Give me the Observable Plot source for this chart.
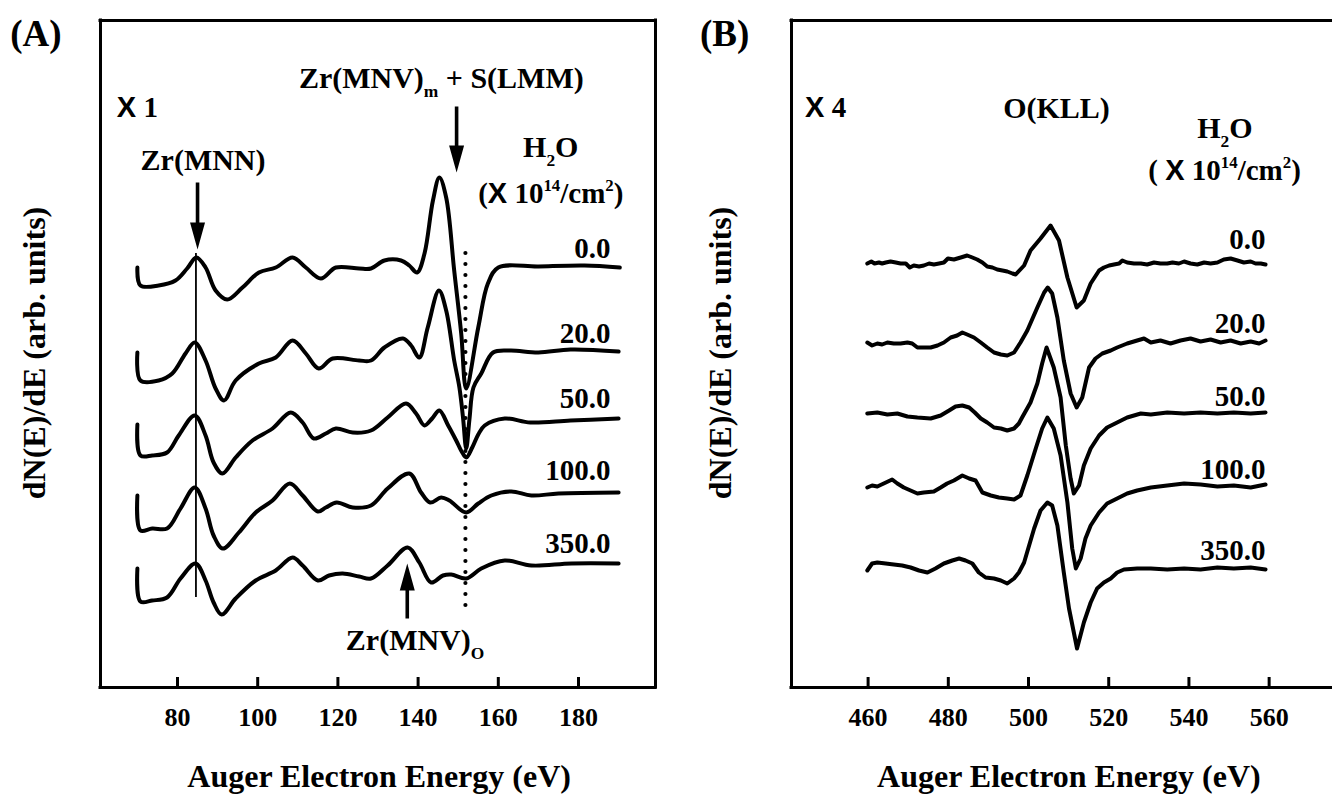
<!DOCTYPE html>
<html><head><meta charset="utf-8">
<script src="https://cdn.jsdelivr.net/npm/d3@7"></script>
<script src="https://cdn.jsdelivr.net/npm/@observablehq/plot@0.6"></script>
<style>
html,body{margin:0;padding:0;background:#fff;overflow:hidden;width:1332px;height:794px;}
#a{position:absolute;left:0;top:0;width:666px;height:794px;}
#b{position:absolute;left:666px;top:0;width:666px;height:794px;}
svg{max-width:none !important;}
</style></head><body>
<div id="a"></div><div id="b"></div>
<script>
const SERIF = "'Liberation Serif','Times New Roman',Times,serif";
const SANS = "'Liberation Sans Narrow','Arial Narrow','Liberation Sans',Arial,sans-serif";

// H2O exposure (x 10^14 / cm^2) for each spectrum
const exposures = ["0.0", "20.0", "50.0", "100.0", "350.0"];
const zrTicks = [80, 100, 120, 140, 160, 180];
const oTicks = [460, 480, 500, 520, 540, 560];

// Panel A: Zr(MNN)/Zr(MNV) region, [energy eV, dN/dE arb. units incl. vertical offset]
const zr00 = [[70,420],[70.75,402],[75.3,402],[79.5,407],[82.4,419],[84.7,430],[87,420],[89.5,397],[92.4,388],[96.2,400],[100.3,415],[104.5,420],[108.7,430],[112,420],[115.75,409],[119.5,420],[125.3,419],[128.25,419],[131.6,427],[135.75,427],[137.8,422],[139.75,415],[141.6,434],[143.7,487],[145.3,510],[147,490],[149,417],[150.75,354],[152,299],[155,360],[157.4,404],[160,420],[170,421],[181.5,422],[190.3,420]];
const zr20 = [[70,335],[70.75,307],[75.3,307],[78.7,314],[82,334],[84.3,345],[87,327],[89.5,299],[91.6,287],[94.5,307],[100.3,324],[104.5,330],[108.7,347],[112,334],[115.2,319],[118.7,329],[125.3,327],[128.25,327],[131.6,340],[136.2,349],[138.25,342],[140.3,330],[142.4,360],[145.2,397],[147,377],[149,327],[150.3,300],[151.2,270],[152,239],[152.8,268],[153.8,300],[155.75,314],[158.7,335],[163,337],[170,335],[178,338],[190,336]];
const zr50 = [[70,263],[70.75,232],[73.7,232],[77.4,235],[80.3,252],[84.3,272],[87,252],[89,225],[91.2,214],[94.5,230],[98.7,247],[103.7,259],[108.25,275],[111.2,265],[114,249],[117,254],[119.5,259],[123.7,255],[128.25,257],[132.4,270],[137,284],[139.5,274],[141.6,262],[143.5,269],[145.3,277],[147.5,262],[149.5,247],[151,235],[152,230],[153.5,240],[155,253],[156.6,262],[161.6,269],[168,265],[178,267],[190,269]];
const zr100 = [[70,192],[70.75,157],[73.7,159],[77.4,159],[80.75,179],[84.3,200],[87,179],[89,152],[91.3,139],[95.3,155],[99.5,175],[103.7,187],[108,204],[111.2,192],[115,176],[117,180],[119.7,185],[123.7,180],[128.25,182],[132.4,199],[137.8,214],[140.75,195],[143,185],[145.75,190],[147.8,187],[152,175],[155,184],[158.25,192],[163.25,196],[168.25,192],[175,194],[190,195]];
const zr350 = [[70,119],[70.75,86],[73.7,87],[77.4,90],[80.75,109],[84.5,124],[87,107],[89,85],[91,73],[94.5,89],[99.5,107],[104.5,117],[108.7,130],[111.2,122],[115,107],[117.8,112],[121.2,114],[125.3,111],[128.25,109],[132.4,122],[137.4,140],[140.3,125],[143.25,105],[146.2,112],[148.25,113],[152,109],[155.75,119],[161.6,127],[168.25,122],[178.25,124],[190,124]];

// Panel B: O(KLL) region
const o00 = [[459.8,424],[460.8,426],[461.6,424],[462.7,425],[463.5,424],[464.4,425],[465.6,426],[466.9,425],[468.1,424],[469.4,424],[470.4,420],[471.4,422],[472.7,421],[473.9,422],[475.2,424],[476.4,423],[477.7,424],[478.9,425],[479.9,429],[481.4,428],[483.1,430],[484.7,432],[486,430],[487.2,428],[488.5,425],[489.7,421],[491,420],[492.2,418],[493.5,417],[494.7,416],[496,414],[496.8,413],[498.9,422],[500.5,437],[503,449],[505.5,462],[507.6,447],[509.7,410],[512,380],[513.8,387],[515.5,404],[517.6,417],[518.8,420],[520.1,422],[521.3,423],[522.6,424],[523.4,427],[524.6,425],[526.3,424],[528,424],[529.6,423],[531.3,425],[532.9,424],[534.6,424],[535.9,425],[537.5,424],[538.8,426],[540.4,424],[542.1,423],[543.8,425],[545.4,424],[547.1,425],[548.7,428],[550.4,429],[552.1,427],[553.7,425],[555.4,426],[556.6,424],[557.9,424],[559.1,423]];
const o20 = [[459.8,345],[461,342],[462.3,344],[463.5,343],[464.8,345],[466.4,344],[468.1,344],[469.8,345],[471,344],[472.3,340],[473.9,340],[475.6,340],[477.3,342],[478.9,345],[480.6,350],[482.2,352],[483.5,355],[484.7,353],[486.4,350],[488.1,345],[489.7,340],[491.4,335],[493.1,333],[494.7,332],[496.4,335],[498,345],[499.7,357],[502.2,380],[503.9,395],[504.8,400],[505.9,394],[507.2,370],[508.8,327],[510.5,294],[512,280],[513.4,290],[515.1,320],[516.7,329],[518.4,334],[520.5,337],[522.1,340],[524.6,344],[527.1,347],[528.8,349],[530.5,345],[532.9,347],[535.4,344],[537.9,347],[540.4,349],[542.9,346],[545.4,348],[547.9,345],[550.4,347],[552.9,344],[555.4,346],[557.5,344],[559.1,347]];
const o50 = [[459.8,274],[462.3,275],[464.8,273],[467.3,274],[469.8,271],[472.3,270],[475.6,269],[478.1,272],[480.2,277],[481.8,281],[483.5,282],[485.2,280],[486.6,275],[488.1,269],[489.7,265],[491.4,260],[493.1,259],[494.7,257],[496.4,259],[497.6,264],[498.4,270],[500.5,285],[502.2,304],[503.4,324],[504.5,340],[506.3,320],[508,290],[509.3,242],[510.5,209],[511.3,194],[512.6,202],[513.8,222],[515.5,239],[517.6,252],[519.6,260],[522.1,265],[524.6,270],[528,274],[530.5,273],[534.6,275],[538.8,274],[542.9,275],[547.1,274],[551.2,275],[555.4,274],[559.1,275]];
const o100 = [[459.8,200],[461,202],[462.3,201],[463.9,204],[466,208],[467.3,204],[468.9,200],[470.6,197],[472.3,194],[473.9,195],[476.4,196],[478.1,200],[479.7,204],[481.4,207],[483.5,212],[485.2,209],[486.8,207],[488.5,195],[490.6,192],[492.6,190],[494.7,189],[496.4,188],[498,192],[499.7,212],[501.8,239],[503.4,259],[504.7,270],[506.3,259],[508,232],[509.7,185],[510.9,139],[511.8,119],[513,129],[514.2,149],[515.5,162],[517.6,175],[519.6,184],[522.1,189],[524.6,194],[527.1,197],[530.5,200],[534.6,202],[538.8,204],[542.9,203],[547.1,201],[551.2,202],[555.4,200],[559.1,203]];
const o350 = [[459.8,117],[461,124],[462.3,125],[464.4,124],[466.4,123],[468.5,122],[470.6,120],[472.7,117],[474.8,115],[476.8,119],[478.9,124],[481,127],[482.7,129],[484.3,127],[486,124],[487.6,115],[489.3,110],[491.4,109],[493.1,107],[494.7,104],[496.4,109],[497.6,115],[498.9,125],[501.4,159],[503,177],[504.7,185],[505.9,182],[507.2,162],[508.8,115],[510.1,79],[512.1,39],[513.8,65],[515.5,85],[517.1,99],[518.8,105],[520.5,109],[522.1,115],[523.8,118],[527.1,119],[530.5,119],[534.6,118],[538.8,119],[542.9,118],[547.1,120],[551.2,119],[555.4,120],[559.1,118]];

const zrSpectra = [zr00, zr20, zr50, zr100, zr350];
const oSpectra = [o00, o20, o50, o100, o350];

// annotation anchors (data units)
const zrLabelLevel = [430, 345, 280, 208, 135];
const oLabelLevel = [439, 355, 282, 209, 128];

function rows(spectra) {
  return spectra.flatMap((s, i) => s.map(([E, I]) => ({E, I, series: exposures[i]})));
}

const arrowShape = {
  draw(context, l) {
    const hl = 27, hw = 7.5, sw = 1.8;
    context.moveTo(-sw, 0);
    context.lineTo(-sw, -l + hl);
    context.lineTo(-hw, -l + hl);
    context.lineTo(0, -l);
    context.lineTo(hw, -l + hl);
    context.lineTo(sw, -l + hl);
    context.lineTo(sw, 0);
    context.closePath();
  }
};

function panel({spectra, xdomain, ticks, width, marginLeft, marginRight, curve, labelX, labelLevel, rightBorder, extra}) {
  const borders = [
    Plot.ruleY([0, 667], {y: d => d, stroke: "black", strokeWidth: 3, strokeLinecap: "square"}),
    Plot.ruleX(rightBorder ? xdomain : [xdomain[0]], {x: d => d, stroke: "black", strokeWidth: 3, strokeLinecap: "square"})
  ];
  const svg = Plot.plot({
    width, height: 794, marginTop: 20, marginBottom: 107, marginLeft, marginRight,
    x: {domain: xdomain, axis: null},
    y: {domain: [0, 667], axis: null},
    style: {background: "white", fontFamily: SERIF, color: "black", overflow: "visible"},
    marks: [
      ...borders,
      Plot.ruleX(ticks, {x: d => d, y1: 0, y2: 10, stroke: "black", strokeWidth: 3}),
      Plot.text(ticks, {x: d => d, y: -38, text: d => String(d), lineAnchor: "bottom",
        fontSize: 26, fontWeight: "bold", fontFamily: SERIF, fill: "black"}),
      ...extra,
      Plot.line(rows(spectra), {x: "E", y: "I", z: "series", stroke: "black", strokeWidth: 4,
        curve, strokeLinejoin: "round", strokeLinecap: "round"}),
      Plot.text(exposures, {x: labelX, y: (d, i) => labelLevel[i], text: d => d, textAnchor: "end",
        lineAnchor: "bottom", fontSize: 29, fontWeight: "bold", fontFamily: SERIF, fill: "black"})
    ]
  });
  svg.style.maxWidth = "none";
  return svg;
}

function rich(svg, x, y, parts, {size = 28, anchor = "start", rotate = 0} = {}) {
  const px = svg.scale("x").apply(x), py = svg.scale("y").apply(y);
  const t = d3.select(svg).append("text").attr("x", px).attr("y", py)
    .attr("font-family", SERIF).attr("font-weight", "bold").attr("font-size", size)
    .attr("text-anchor", anchor).attr("fill", "black");
  if (rotate) t.attr("transform", `rotate(${rotate},${px},${py})`);
  let shift = 0;
  for (const p of parts) {
    const ts = t.append("tspan").text(p.t);
    const want = p.sub ? size * 0.3 : p.sup ? -size * 0.4 : 0;
    if (want !== shift) { ts.attr("dy", want - shift); shift = want; }
    if (p.sub || p.sup) ts.attr("font-size", size * 0.58);
    if (p.sans) ts.attr("font-family", SANS);
  }
}

// ---------- Panel A ----------
const A = panel({
  spectra: zrSpectra, xdomain: [60.8, 199.2], ticks: zrTicks, width: 666,
  marginLeft: 100, marginRight: 11, curve: "catmull-rom", labelX: 188, labelLevel: zrLabelLevel,
  rightBorder: true,
  extra: [
    Plot.ruleX([84.6], {x: d => d, y1: 90, y2: 434, stroke: "black", strokeWidth: 1.8}),
    Plot.ruleX([151.8], {x: d => d, y1: 82, y2: 440, stroke: "black", strokeWidth: 4.2,
      strokeDasharray: "0 11", strokeLinecap: "round"}),
    Plot.vector([[85, 438]], {x: d => d[0], y: d => d[1], length: 67, rotate: 180, anchor: "end",
      shape: arrowShape, fill: "black", stroke: "none"}),
    Plot.vector([[149.6, 515]], {x: d => d[0], y: d => d[1], length: 66, rotate: 180, anchor: "end",
      shape: arrowShape, fill: "black", stroke: "none"}),
    Plot.vector([[137.3, 124]], {x: d => d[0], y: d => d[1], length: 55, rotate: 0, anchor: "end",
      shape: arrowShape, fill: "black", stroke: "none"})
  ]
});
document.getElementById("a").append(A);
rich(A, 38.4, 641, [{t: "(A)"}], {size: 37});
rich(A, 65.0, 570, [{t: "X", sans: true}, {t: " 1"}], {size: 29});
rich(A, 86.5, 517, [{t: "Zr(MNN)"}], {size: 30, anchor: "middle"});
rich(A, 110.4, 599, [{t: "Zr(MNV)"}, {t: "m", sub: true}, {t: " + S(LMM)"}], {size: 30});
rich(A, 166.3, 530, [{t: "H"}, {t: "2", sub: true}, {t: "O"}], {size: 30});
rich(A, 155.1, 484, [{t: "("}, {t: "X", sans: true}, {t: " 10"}, {t: "14", sup: true}, {t: "/cm"}, {t: "2", sup: true}, {t: ")"}], {size: 29});
rich(A, 122.1, 37, [{t: "Zr(MNV)"}, {t: "O", sub: true}], {size: 30});
rich(A, 130.4, -100, [{t: "Auger Electron Energy (eV)"}], {size: 32, anchor: "middle"});
rich(A, 47.1, 334, [{t: "dN(E)/dE (arb. units)"}], {size: 32, anchor: "middle", rotate: -90});

// ---------- Panel B (frame continues past the right edge of the picture) ----------
const B = panel({
  spectra: oSpectra, xdomain: [440.9, 575.8], ticks: oTicks, width: 666,
  marginLeft: 125, marginRight: 0, curve: "linear", labelX: 559.1, labelLevel: oLabelLevel,
  rightBorder: false,
  extra: []
});
document.getElementById("b").append(B);
rich(B, 418.2, 641, [{t: "(B)"}], {size: 37});
rich(B, 444.4, 570, [{t: "X", sans: true}, {t: " 4"}], {size: 29});
rich(B, 493.8, 569, [{t: "O(KLL)"}], {size: 30});
rich(B, 542.2, 549, [{t: "H"}, {t: "2", sub: true}, {t: "O"}], {size: 30});
rich(B, 530.0, 507, [{t: "( "}, {t: "X", sans: true}, {t: " 10"}, {t: "14", sup: true}, {t: "/cm"}, {t: "2", sup: true}, {t: ")"}], {size: 29});
rich(B, 510.2, -100, [{t: "Auger Electron Energy (eV)"}], {size: 32, anchor: "middle"});
rich(B, 426.0, 334, [{t: "dN(E)/dE (arb. units)"}], {size: 32, anchor: "middle", rotate: -90});
</script>
</body></html>
